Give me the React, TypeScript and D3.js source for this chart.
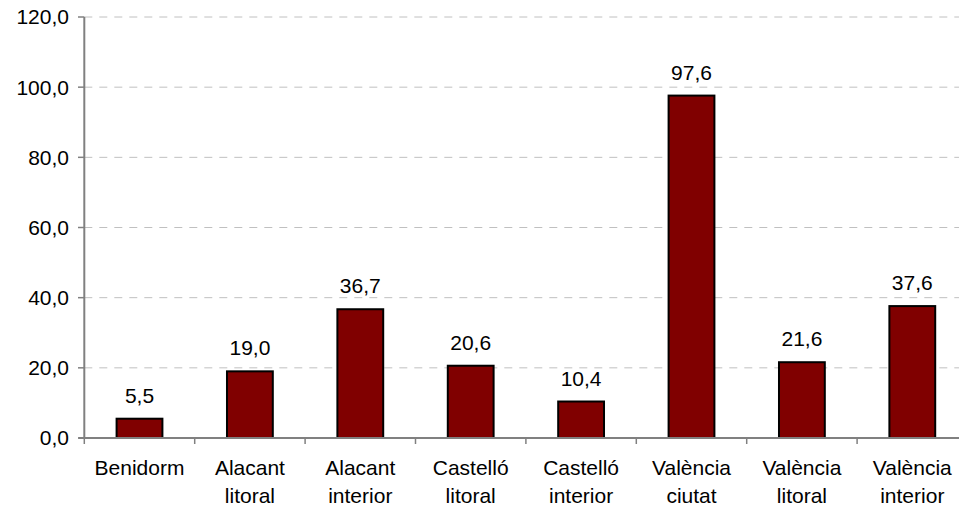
import React from "react";
import * as d3 from "d3";

const categories = [
  ["Benidorm"],
  ["Alacant", "litoral"],
  ["Alacant", "interior"],
  ["Castelló", "litoral"],
  ["Castelló", "interior"],
  ["València", "ciutat"],
  ["València", "litoral"],
  ["València", "interior"],
];
const values = [5.5, 19.0, 36.7, 20.6, 10.4, 97.6, 21.6, 37.6];
const yTicks = [0, 20, 40, 60, 80, 100, 120];

const W = 959;
const H = 507;
const left = 84.3;
const band = 110.4;
const font = "'Liberation Sans', Arial, sans-serif";
const fs = 21;

export default function App() {
  const keys = categories.map((c) => c.join(" "));
  const x = d3
    .scaleBand<string>()
    .domain(keys)
    .range([left, left + band * keys.length])
    .paddingInner(0)
    .paddingOuter(0);
  const y = d3.scaleLinear().domain([0, 120]).range([438, 17]);
  const bw = x.bandwidth() * 0.415;
  const fmt = (v: number) => v.toFixed(1).replace(".", ",");

  return (
    <svg
      width={W}
      height={H}
      style={{ position: "absolute", left: 0, top: 0, background: "#fff" }}
      fontFamily={font}
    >
      {yTicks
        .filter((t) => t > 0)
        .map((t) => (
          <line
            key={"g" + t}
            x1={left}
            x2={W + 20}
            y1={y(t)}
            y2={y(t)}
            stroke="#c0c0c0"
            strokeWidth={1}
            strokeDasharray="8,7"
          />
        ))}
      {yTicks.map((t) => (
        <g key={"t" + t}>
          <line x1={78} x2={left} y1={y(t)} y2={y(t)} stroke="#808080" strokeWidth={1.5} />
          <text
            x={69}
            y={y(t)}
            dy="0.35em"
            textAnchor="end"
            fontSize={fs}
            fill="#000"
          >
            {fmt(t)}
          </text>
        </g>
      ))}
      {values.map((v, i) => {
        const cx = (x(keys[i]) as number) + x.bandwidth() / 2;
        return (
          <g key={"b" + i}>
            <rect
              x={cx - bw / 2}
              y={y(v)}
              width={bw}
              height={y(0) - y(v)}
              fill="#800000"
              stroke="#000"
              strokeWidth={2}
            />
            <text x={cx} y={y(v) - 16} textAnchor="middle" fontSize={fs} fill="#000">
              {fmt(v)}
            </text>
          </g>
        );
      })}
      <line x1={left} x2={left} y1={y(120)} y2={y(0)} stroke="#808080" strokeWidth={2} />
      <line x1={left - 6} x2={W + 20} y1={y(0)} y2={y(0)} stroke="#808080" strokeWidth={2} />
      {keys.map((k, i) => (
        <line
          key={"ct" + i}
          x1={(x(k) as number)}
          x2={(x(k) as number)}
          y1={y(0)}
          y2={y(0) + 6}
          stroke="#808080"
          strokeWidth={1.5}
        />
      ))}
      {categories.map((c, i) => {
        const cx = (x(keys[i]) as number) + x.bandwidth() / 2;
        return (
          <text key={"c" + i} textAnchor="middle" fontSize={fs} fill="#000">
            {c.map((line, j) => (
              <tspan key={j} x={cx} y={475 + j * 27.5}>
                {line}
              </tspan>
            ))}
          </text>
        );
      })}
    </svg>
  );
}
